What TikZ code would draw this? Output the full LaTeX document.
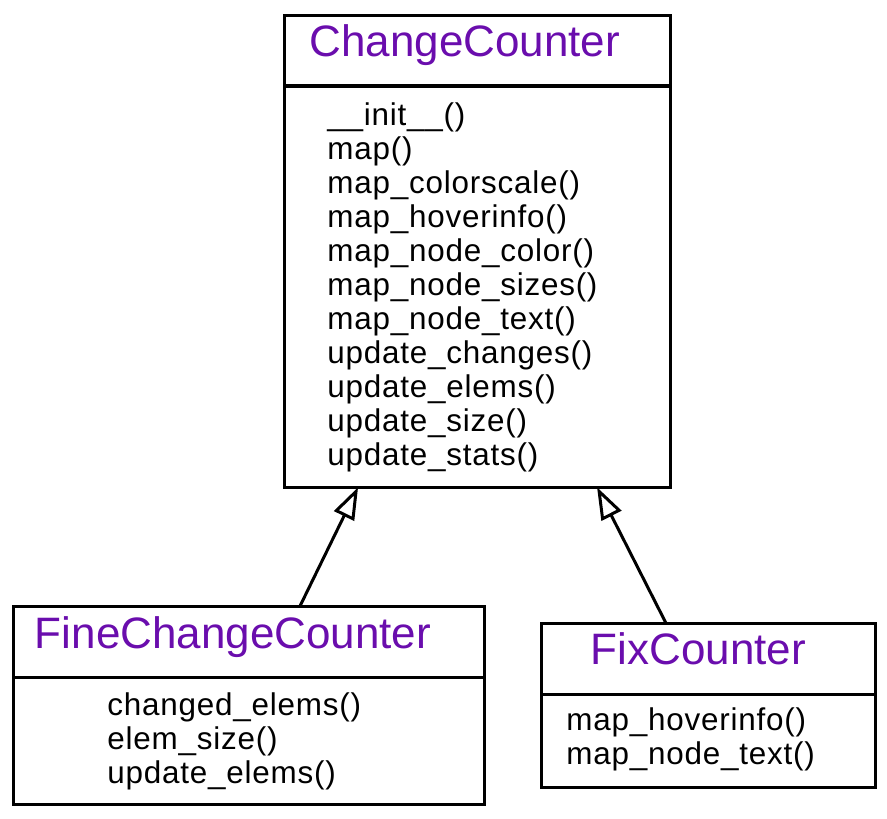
\documentclass[tikz,border=0pt]{standalone}
\usepackage{fontspec}
\setmainfont{Liberation Sans}
\newfontfamily\methodfont[LetterSpace=2.5]{Liberation Sans}
\usetikzlibrary{arrows.meta,positioning}
\definecolor{classpurple}{RGB}{106,13,173}

\tikzset{
  head/.style={draw, line width=1.5pt, anchor=north west, inner sep=0pt, outer sep=0pt, minimum height=35.5pt},
  body/.style={draw, line width=1.5pt, anchor=north west, inner sep=0pt, outer sep=0pt},
  classname/.style={anchor=base west, inner sep=0pt, text=classpurple, font=\fontsize{22}{26}\selectfont},
  % base of a multi-line node is its last line
  methods/.style={anchor=base west, inner sep=0pt, align=left, font=\methodfont\fontsize{15.7}{17}\selectfont},
  inherit/.style={-{Triangle[open, length=16pt, width=11pt]}, line width=1.5pt},
}

\begin{document}
\begin{tikzpicture}[x=0.5pt, y=-0.5pt]
	\useasboundingbox (0,0) rectangle (887,818);

	% 1. The base class (top)
	\node[head, minimum width=192.75pt] (ccHead) at (284.5,15.3) {};
	\node[body, minimum width=192.75pt, minimum height=200.65pt] (ccBody) at (284.5,86) {};
	\node[classname] (ccName) at (309,57) {ChangeCounter};
	\node[methods] (ccMethods) at (327,465) {\_\_init\_\_()\\map()\\map\_colorscale()\\map\_hoverinfo()\\map\_node\_color()\\map\_node\_sizes()\\map\_node\_text()\\update\_changes()\\update\_elems()\\update\_size()\\update\_stats()};

	% 2. Left subclass
	\node[head, minimum width=235.35pt] (fineHead) at (13.3,606) {};
	\node[body, minimum width=235.35pt, minimum height=63.5pt] (fineBody) at (13.3,677) {};
	\node[classname] (fineName) at (34.5,648) {FineChangeCounter};
	\node[methods] (fineMethods) at (107,783) {changed\_elems()\\elem\_size()\\update\_elems()};

	% 3. Right subclass
	\node[head, minimum width=166.75pt] (fixHead) at (541.5,623.3) {};
	\node[body, minimum width=166.75pt, minimum height=46.5pt] (fixBody) at (541.5,694) {};
	\node[classname] (fixName) at (590.5,664) {FixCounter};
	\node[methods] (fixMethods) at (566,764) {map\_hoverinfo()\\map\_node\_text()};

	% 4. Inheritance arrows
	\draw[inherit] ([xshift=25.7pt]fineHead.north) -- ([xshift=-59.6pt]ccBody.south);
	\draw[inherit] ([xshift=-21.1pt]fixHead.north) -- ([xshift=59.9pt]ccBody.south);
\end{tikzpicture}
\end{document}
